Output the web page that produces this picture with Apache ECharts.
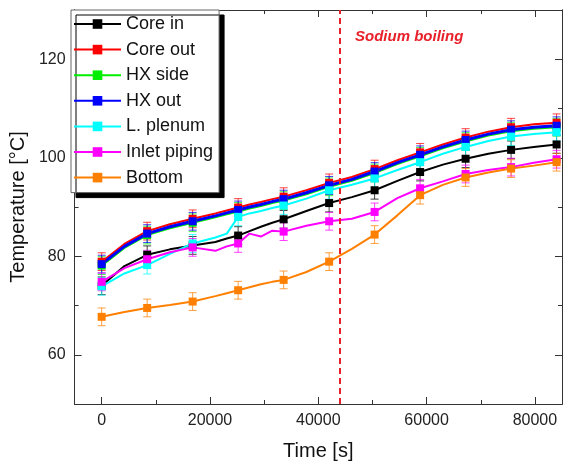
<!doctype html>
<html lang="en">
<head>
    <meta charset="UTF-8">
    <title>Temperature history</title>
    <style>
        * { margin: 0; padding: 0; }
        body { background: #ffffff; }
        #chart { width: 563px; height: 466px; }
    </style>
</head>
<body>
<div id="chart"></div>
<script src="https://cdn.jsdelivr.net/npm/echarts@6/dist/echarts.min.js"></script>
<script type="application/javascript">
    // time samples [s], markers every 8400 s
    const times = [0, 4200, 8400, 12600, 16800, 21000, 23100, 25200, 27300, 29400, 31500, 33600,
        37800, 42000, 46200, 50400, 54600, 58800, 63000, 67200, 71400, 75600, 79800, 84000];

    const coreIn = [74.0, 78.0, 80.3, 81.4, 82.2, 82.9, 83.6, 84.2, 85.1, 86.0, 86.8, 87.5,
        89.2, 90.8, 92.0, 93.4, 95.3, 97.1, 98.6, 99.8, 100.8, 101.6, 102.2, 102.7];
    const coreOut = [78.9, 82.5, 85.1, 86.5, 87.6, 88.7, 89.3, 89.9, 90.5, 91.0, 91.6, 92.1,
        93.4, 94.9, 96.1, 97.7, 99.5, 101.1, 102.7, 104.1, 105.3, 106.2, 106.8, 107.1];
    const hxSide = [78.1, 81.7, 84.3, 85.7, 86.8, 87.9, 88.5, 89.1, 89.7, 90.2, 90.8, 91.3,
        92.6, 94.1, 95.3, 96.9, 98.7, 100.3, 101.9, 103.3, 104.5, 105.4, 105.9, 106.2];
    const hxOut = [78.4, 82.0, 84.6, 86.0, 87.1, 88.2, 88.8, 89.4, 90.0, 90.5, 91.1, 91.6,
        92.9, 94.4, 95.6, 97.2, 99.0, 100.6, 102.2, 103.6, 104.8, 105.7, 106.2, 106.5];
    const lPlenum = [73.9, 76.5, 78.2, 80.5, 82.6, 83.8, 84.6, 88.0, 88.7, 89.2, 89.8, 90.3,
        91.7, 93.4, 94.5, 95.8, 97.5, 99.1, 100.8, 102.2, 103.4, 104.3, 104.8, 105.2];
    const inletPiping = [74.8, 77.6, 79.4, 80.8, 81.8, 81.1, 82.0, 82.6, 84.6, 84.0, 85.2, 85.0,
        86.2, 87.1, 87.6, 89.0, 91.8, 93.8, 95.2, 96.7, 97.5, 98.1, 99.0, 99.7];
    const bottom = [67.7, 68.7, 69.5, 70.1, 70.8, 71.9, 72.5, 73.1, 73.7, 74.3, 74.8, 75.2,
        76.8, 78.9, 81.5, 84.4, 88.3, 92.4, 94.5, 96.0, 97.0, 97.8, 98.4, 99.1];

    const seriesNames = ['Core in', 'Core out', 'HX side', 'HX out', 'L. plenum', 'Inlet piping', 'Bottom'];
    const seriesValues = [coreIn, coreOut, hxSide, hxOut, lPlenum, inletPiping, bottom];
    const seriesColors = ['#000000', '#ff0000', '#00ee00', '#0000ff', '#00ffff', '#ff00ff', '#ff8000'];
    const errSize = 1.8;
    const markerStep = 8400;
    const boilingTime = 44000;

    const xMajor = [0, 20000, 40000, 60000, 80000];
    const xMinor = [10000, 30000, 50000, 70000];
    const yMajor = [60, 80, 100, 120];
    const yMinor = [70, 90, 110];

    const frameColor = '#333';
    const font = "'Liberation Sans', Arial, sans-serif";

    const lineSeries = function (name, values, color, width) {
        return {
            name: name,
            type: 'line',
            color: color,
            symbol: 'rect',
            symbolSize: 8,
            showAllSymbol: true,
            lineStyle: {width: width, color: color},
            itemStyle: {color: color},
            data: times.map(function (t, i) {
                return {value: [t, values[i]], symbol: t % markerStep === 0 ? 'rect' : 'none'};
            })
        };
    };

    const errSeries = function (name, values, color) {
        const pts = [];
        times.forEach(function (t, i) {
            if (t % markerStep === 0) pts.push([t, values[i] - errSize, values[i] + errSize]);
        });
        return {
            name: name + ' err',
            type: 'custom',
            silent: true,
            data: pts,
            renderItem: function (params, api) {
                const lo = api.coord([api.value(0), api.value(1)]);
                const hi = api.coord([api.value(0), api.value(2)]);
                const w = 4;
                const st = {stroke: color, lineWidth: 1, opacity: 0.75};
                return {
                    type: 'group',
                    children: [
                        {type: 'line', shape: {x1: lo[0], y1: lo[1], x2: hi[0], y2: hi[1]}, style: st},
                        {type: 'line', shape: {x1: lo[0] - w, y1: lo[1], x2: lo[0] + w, y2: lo[1]}, style: st},
                        {type: 'line', shape: {x1: hi[0] - w, y1: hi[1], x2: hi[0] + w, y2: hi[1]}, style: st}
                    ]
                };
            }
        };
    };

    const series = [];
    seriesNames.forEach(function (n, k) {
        series.push(lineSeries(n, seriesValues[k], seriesColors[k], n === 'HX out' ? 3 : 2));
        series.push(errSeries(n, seriesValues[k], seriesColors[k]));
    });
    series[0].markLine = {
        silent: true,
        symbol: 'none',
        label: {show: false},
        lineStyle: {color: '#e8202a', type: [6, 4], width: 2},
        data: [{xAxis: boilingTime}]
    };

    const tickAxis = function (kind, pos, values, len, extra) {
        const ax = {
            type: 'value',
            position: pos,
            min: kind === 'x' ? -5000 : 50,
            max: kind === 'x' ? 85000 : 130,
            axisLine: {show: true, onZero: false, lineStyle: {color: frameColor, width: 1}},
            axisTick: {show: true, inside: true, length: len, customValues: values,
                lineStyle: {color: frameColor, width: 1}},
            axisLabel: {show: false, customValues: values},
            splitLine: {show: false}
        };
        return Object.assign(ax, extra || {});
    };

    const labelStyle = {
        show: true, color: '#222', fontSize: 16, fontFamily: font,
        formatter: function (v) { return String(v); }
    };

    const option = {
        animation: false,
        backgroundColor: '#ffffff',
        grid: {left: 71, right: 1, top: 10, bottom: 59},
        xAxis: [
            tickAxis('x', 'bottom', xMajor, 7, {
                name: 'Time [s]', nameLocation: 'middle', nameGap: 37,
                nameTextStyle: {color: '#111', fontSize: 20, fontFamily: font},
                axisLabel: Object.assign({customValues: xMajor, margin: 9}, labelStyle)
            }),
            tickAxis('x', 'bottom', xMinor, 4),
            tickAxis('x', 'top', xMajor, 7),
            tickAxis('x', 'top', xMinor, 4)
        ],
        yAxis: [
            tickAxis('y', 'left', yMajor, 7, {
                name: 'Temperature [\u00b0C]', nameLocation: 'middle', nameGap: 42,
                nameTextStyle: {color: '#111', fontSize: 20, fontFamily: font},
                axisLabel: Object.assign({customValues: yMajor, margin: 9}, labelStyle)
            }),
            tickAxis('y', 'left', yMinor, 4),
            tickAxis('y', 'right', yMajor, 7),
            tickAxis('y', 'right', yMinor, 4)
        ],
        legend: {
            data: seriesNames,
            orient: 'vertical',
            left: 71,
            top: 10,
            itemWidth: 47,
            itemHeight: 12,
            itemGap: 7.6,
            padding: [5, 6, 6, 2],
            backgroundColor: '#ffffff',
            borderColor: '#666',
            borderWidth: 1,
            shadowColor: '#000',
            shadowBlur: 0,
            shadowOffsetX: 5,
            shadowOffsetY: 5,
            textStyle: {color: '#111', fontSize: 18, fontFamily: font}
        },
        graphic: [{
            type: 'text',
            left: 355,
            top: 29,
            z: 100,
            style: {
                text: 'Sodium boiling',
                fill: '#e8202a',
                font: "italic bold 15px 'Liberation Sans', Arial, sans-serif"
            }
        }],
        series: series
    };

    const chart = echarts.init(document.getElementById('chart'));
    chart.setOption(option);
</script>
</body>
</html>
